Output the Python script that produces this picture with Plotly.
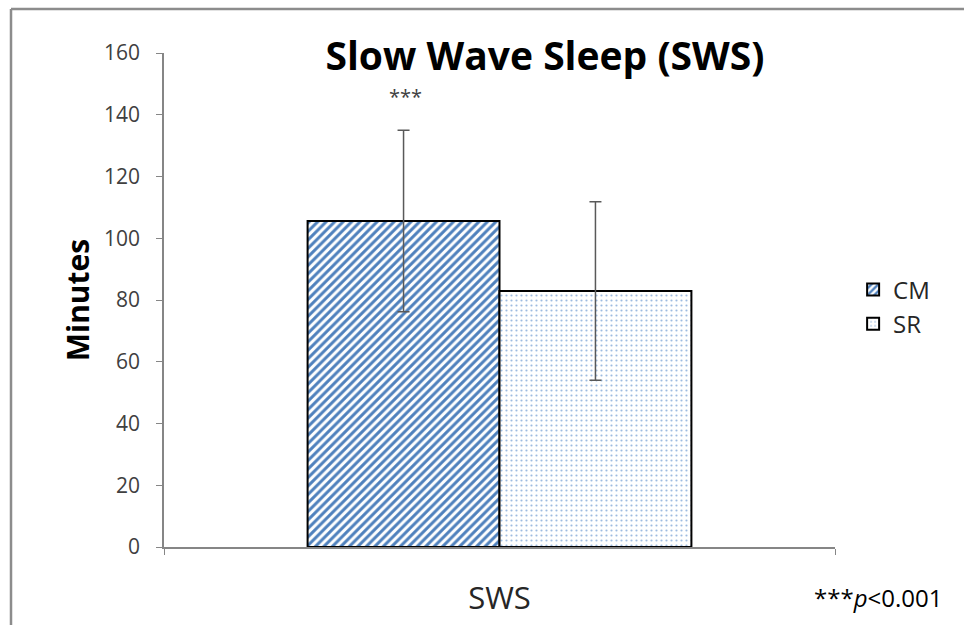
import plotly.graph_objects as go

categories = ["SWS"]
groups = ["CM", "SR"]
means = [105.6, 82.9]
errors = [29.4, 28.9]
yticks = [0, 20, 40, 60, 80, 100, 120, 140, 160]

FONT = "Open Sans"
fig = go.Figure()

fig.add_trace(go.Bar(
    name=groups[0], x=categories, y=[means[0]],
    error_y=dict(type="data", array=[errors[0]], color="#595959", thickness=1.5, width=6),
    marker=dict(color="white", line=dict(color="black", width=2),
                pattern=dict(shape="/", fgcolor="#4F81BD", bgcolor="white", size=6,
                             solidity=0.5, fgopacity=1)),
))
fig.add_trace(go.Bar(
    name=groups[1], x=categories, y=[means[1]],
    error_y=dict(type="data", array=[errors[1]], color="#595959", thickness=1.5, width=6),
    marker=dict(color="white", line=dict(color="black", width=2),
                pattern=dict(shape=".", fgcolor="#9DBBE0", bgcolor="white", size=5,
                             solidity=0.15, fgopacity=1)),
))

fig.update_layout(
    width=964, height=625,
    margin=dict(l=164, r=129, t=53, b=78, autoexpand=False),
    paper_bgcolor="white", plot_bgcolor="white",
    barmode="group", bargap=0.428, bargroupgap=0,
    font=dict(family=FONT, color="#404040"),
    showlegend=True,
    legend=dict(x=1.027, y=0.486, xanchor="left", yanchor="middle",
                font=dict(size=24, color="#262626"), tracegroupgap=0,
                itemwidth=30, bgcolor="rgba(0,0,0,0)"),
    title=dict(text="<b>Slow Wave Sleep (SWS)</b>", x=545/964, xanchor="center",
               y=1 - 56/625, yanchor="middle", font=dict(size=39, color="black", family=FONT)),
    xaxis=dict(type="category", range=[-0.5, 0.5], showline=True, linecolor="#868686", linewidth=1.5,
               ticks="outside", tickson="boundaries", ticklen=6, tickcolor="#868686",
               ticklabelstandoff=23, automargin=False,
               tickfont=dict(size=31, color="#262626"), showgrid=False, zeroline=False),
    yaxis=dict(range=[0, 160], tickvals=yticks, showline=True, linecolor="#868686", linewidth=1.5,
               ticks="outside", ticklen=6, tickcolor="#868686", showgrid=False, zeroline=False,
               ticklabelstandoff=12, automargin=False,
               tickfont=dict(size=21, color="#404040"),
               title=dict(text="<b>Minutes</b>", font=dict(size=30, color="black"), standoff=6)),
)

fig.add_annotation(text="***", xref="paper", yref="y", x=(405 - 164) / 671, y=146,
                   showarrow=False, font=dict(size=20, color="#404040"))
fig.add_annotation(text="***<i>p</i>&lt;0.001", xref="paper", yref="paper",
                   x=(878 - 164) / 671, y=(547 - 597) / 494, xanchor="center", yanchor="middle",
                   showarrow=False, font=dict(size=24, color="black"))

# chart frame
fx0 = (11 - 164) / 671
fy1 = (547 - 9) / 494
fig.add_shape(type="line", xref="paper", yref="paper", x0=fx0, x1=2, y0=fy1, y1=fy1,
              line=dict(color="#8c8c8c", width=2.5))
fig.add_shape(type="line", xref="paper", yref="paper", x0=fx0, x1=fx0, y0=fy1, y1=-2,
              line=dict(color="#8c8c8c", width=2.5))

fig.write_html("out.html")
